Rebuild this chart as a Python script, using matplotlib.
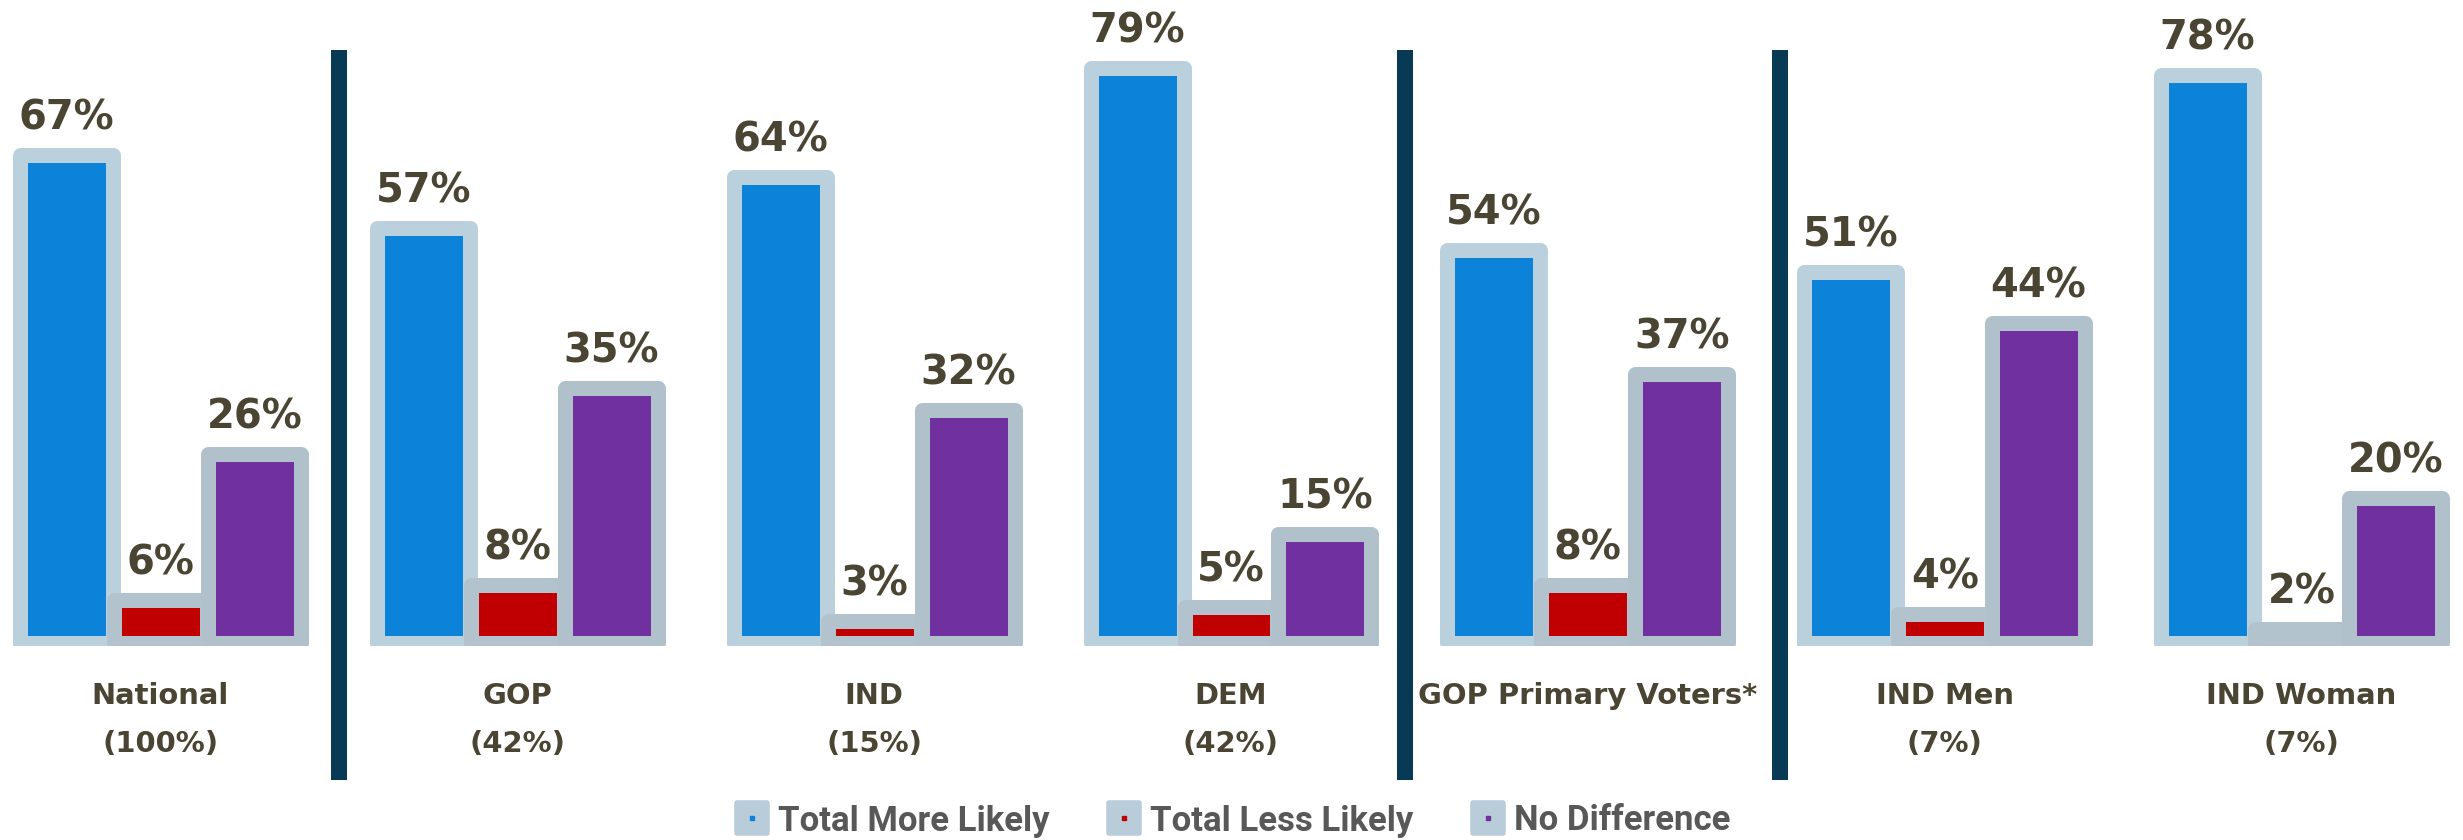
import matplotlib
matplotlib.use('Agg')
import matplotlib.pyplot as plt
from matplotlib.lines import Line2D
from matplotlib.markers import MarkerStyle
import numpy as np

# data
groups = ['National', 'GOP', 'IND', 'DEM', 'GOP Primary Voters*', 'IND Men', 'IND Woman']
shares = ['(100%)', '(42%)', '(15%)', '(42%)', '', '(7%)', '(7%)']
more_likely = [67, 57, 64, 79, 54, 51, 78]
less_likely = [6, 8, 3, 5, 8, 4, 2]
no_difference = [26, 35, 32, 15, 37, 44, 20]

series_names = ['Total More Likely', 'Total Less Likely', 'No Difference']
series_colors = ['#0c83d9', '#c00000', '#7030a0']
edge_colors = ['#bad0dd', '#b3c3ce', '#b1c1cc']

text_col = '#4a4433'
px = 0.72  # pixels -> points at dpi 100

fig = plt.figure(figsize=(24.63, 8.4), dpi=100)
ax = fig.add_axes([0, 1 - 645.5 / 840, 1, 645.5 / 840])
ax.set_xlim(-1.709, 24.52)
ax.set_ylim(-0.316, 88.35)
ax.axis('off')

group_step = 3.8
centers = np.arange(len(groups)) * group_step

for j, vals in enumerate([more_likely, less_likely, no_difference]):
    xs = centers + (j - 1)
    ax.bar(xs, vals, width=0.99, color=series_colors[j], edgecolor=edge_colors[j],
           linewidth=15 * px, joinstyle='round', zorder=2 + j)
    for x, v in zip(xs, vals):
        ax.annotate(f'{v}%', (x, v), xytext=(0, 25.5 * px), textcoords='offset points',
                    ha='center', va='baseline', fontsize=40 * px, fontweight='bold',
                    family='DejaVu Sans', color=text_col, annotation_clip=False)

# group labels
for x, g, s in zip(centers, groups, shares):
    ax.annotate(g, (x, 0), xytext=(0, -60.8 * px), textcoords='offset points',
                ha='center', va='baseline', fontsize=29 * px, fontweight='bold',
                family='DejaVu Sans', color=text_col, annotation_clip=False)
    if s:
        ax.annotate(s, (x, 0), xytext=(0, -108.8 * px), textcoords='offset points',
                    ha='center', va='baseline', fontsize=29 * px, fontweight='bold',
                    family='DejaVu Sans', color=text_col, annotation_clip=False)

# dark separators
for sx in [1.9, 13.25, 17.25]:
    ax.plot([sx, sx], [-18.79, 81.48], color='#083a55', lw=16 * px,
            solid_capstyle='butt', clip_on=False, zorder=6)

# legend
handles = []
for c in series_colors:
    bg = Line2D([], [], linestyle='none', marker=MarkerStyle('s', joinstyle='round'),
                markersize=22, markerfacecolor='#b9ccd9', markeredgecolor='#b9ccd9',
                markeredgewidth=4)
    dot = Line2D([], [], linestyle='none', marker='s', markersize=3.5, color=c)
    handles.append((bg, dot))

fig.legend(handles, series_names, loc='center', bbox_to_anchor=(0.5, 19 / 840), ncol=3,
           frameon=False, prop=dict(family='Roboto', weight='bold', size=25),
           labelcolor='#585858', handlelength=1.1, handletextpad=0.2,
           columnspacing=1.6, borderpad=0, borderaxespad=0)

fig.savefig('out.png', dpi=100, facecolor='white')
